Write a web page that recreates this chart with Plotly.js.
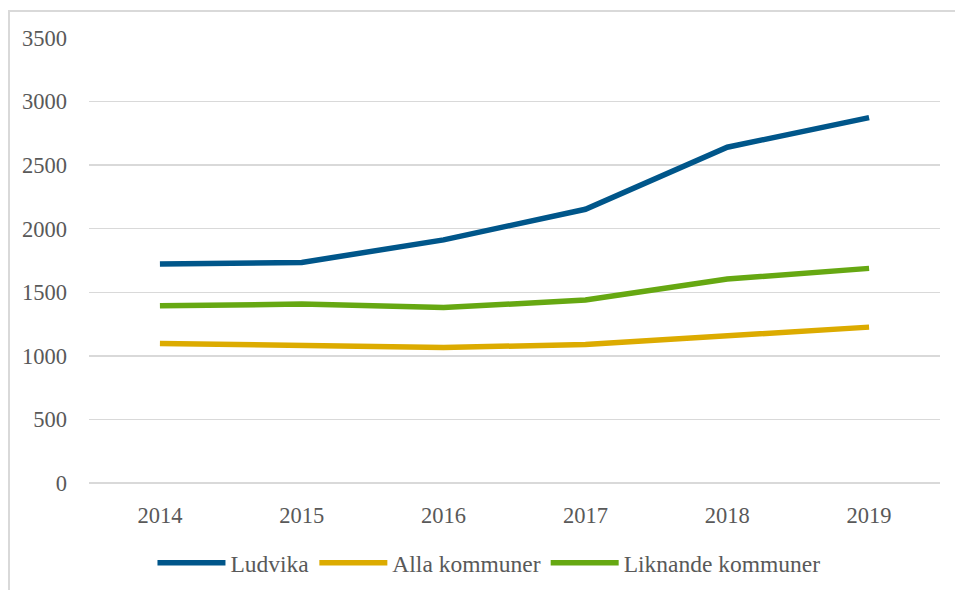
<!DOCTYPE html>
<html>
<head>
<meta charset="utf-8">
<script src="https://cdn.plot.ly/plotly-3.0.1.min.js"></script>
<style>
html,body{margin:0;padding:0;background:#fff;}
#frame{position:absolute;left:8px;top:10px;width:947px;height:580px;border-top:2px solid #d9d9d9;border-left:2px solid #d9d9d9;box-sizing:border-box;pointer-events:none;}
#chart{position:absolute;left:0;top:0;width:955px;height:590px;}
#chart .legend text{font-family:'Liberation Serif', serif !important;}
</style>
</head>
<body>
<div id="chart"></div>
<div id="frame"></div>
<script>
const years = ['2014','2015','2016','2017','2018','2019'];
const ludvika = [1722, 1735, 1912, 2153, 2641, 2874];
const allaKommuner = [1098, 1084, 1065, 1090, 1155, 1226];
const liknandeKommuner = [1394, 1407, 1380, 1439, 1604, 1688];
const yTicks = [0, 500, 1000, 1500, 2000, 2500, 3000, 3500];

const mk = (name, y, color) => ({
  type: 'scatter', mode: 'lines', name: name, x: years, y: y,
  line: {color: color, width: 5.5, shape: 'linear'},
  hoverinfo: 'skip'
});

const data = [
  mk('Ludvika', ludvika, '#00568a'),
  mk('Alla kommuner', allaKommuner, '#dcab00'),
  mk('Liknande kommuner', liknandeKommuner, '#66a812')
];

const FAM = 'Liberation Serif';
const f = (s) => ({family: FAM, size: s || 22.5, color: '#595959'});

const layout = {
  width: 955, height: 590,
  margin: {l: 89, r: 15, t: 38, b: 107, autoexpand: false},
  paper_bgcolor: 'rgba(0,0,0,0)',
  plot_bgcolor: 'rgba(0,0,0,0)',
  font: f(),
  showlegend: true,
  legend: {
    orientation: 'h', x: 0.47, xanchor: 'center', y: -0.18, yanchor: 'middle',
    font: f(23.5), itemwidth: 68, traceorder: 'normal'
  },
  xaxis: {
    type: 'category', range: [-0.5, 5.5],
    showgrid: false, zeroline: false, showline: false,
    ticks: '', ticklabelstandoff: 16, tickfont: f()
  },
  yaxis: {
    range: [0, 3500], tickvals: yTicks, ticktext: yTicks.map(String),
    showgrid: true, gridcolor: '#d9d9d9', gridwidth: 1.5,
    zeroline: true, zerolinecolor: '#d9d9d9', zerolinewidth: 1.5,
    showline: false, ticks: '', ticklabelstandoff: 21, tickfont: f()
  }
};

Plotly.newPlot('chart', data, layout, {displayModeBar: false, staticPlot: true});
</script>
</body>
</html>
